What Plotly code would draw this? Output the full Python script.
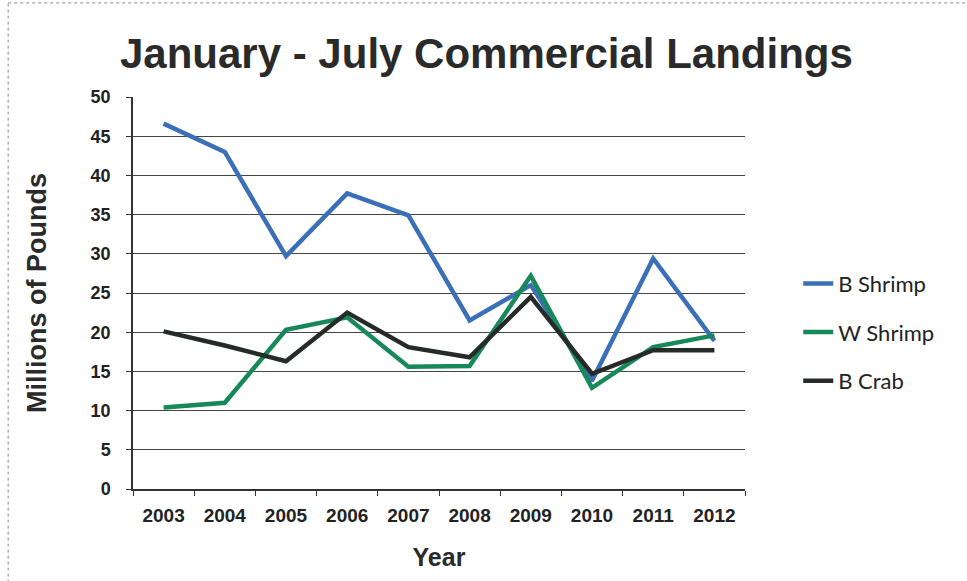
import plotly.graph_objects as go

years = ["2003", "2004", "2005", "2006", "2007", "2008", "2009", "2010", "2011", "2012"]
b_shrimp = [46.6, 43.0, 29.7, 37.7, 34.9, 21.5, 26.0, 13.8, 29.4, 18.9]
w_shrimp = [10.4, 11.0, 20.3, 21.9, 15.6, 15.7, 27.2, 12.9, 18.1, 19.6]
b_crab = [20.1, 18.3, 16.3, 22.5, 18.1, 16.8, 24.5, 14.7, 17.7, 17.7]
y_ticks = [0, 5, 10, 15, 20, 25, 30, 35, 40, 45, 50]

FONT = "Liberation Sans, Arial"

fig = go.Figure()
fig.add_trace(go.Scatter(x=years, y=b_shrimp, mode="lines", name="B Shrimp", legendgroup="a",
                         line=dict(color="#3b70b8", width=4.5)))
fig.add_trace(go.Scatter(x=years, y=w_shrimp, mode="lines", name="W Shrimp", legendgroup="b",
                         line=dict(color="#17885a", width=4.5)))
fig.add_trace(go.Scatter(x=years, y=b_crab, mode="lines", name="B Crab", legendgroup="c",
                         line=dict(color="#262a28", width=4.5)))

fig.update_layout(
    width=967, height=581,
    paper_bgcolor="white", plot_bgcolor="white",
    margin=dict(l=133, r=222, t=97, b=92),
    title=dict(text="January - July Commercial Landings", x=0.503, xanchor="center",
               y=0.909, yanchor="middle",
               font=dict(family=FONT, size=42, color="#2a2a2a", weight="bold")),
    showlegend=True,
    legend=dict(x=1.087, y=0.40, xanchor="left", yanchor="middle",
                font=dict(family="Lato, Noto Sans", size=22, color="#222"),
                traceorder="grouped", tracegroupgap=17, itemwidth=30,
                bgcolor="rgba(0,0,0,0)"),
    font=dict(family=FONT, color="#222"),
)

fig.update_xaxes(
    type="category", range=[-0.5, 9.5], tickson="boundaries", ticks="outside", ticklen=5,
    tickcolor="#333", showline=True, linecolor="#333", linewidth=1.5, showgrid=False,
    tickfont=dict(family=FONT, size=19, color="#222", weight="bold"), ticklabelstandoff=8,
    title=dict(text="Year", font=dict(family=FONT, size=25, color="#2a2a2a", weight="bold"),
               standoff=24),
)
fig.update_yaxes(
    range=[0, 50], tickvals=y_ticks, ticks="outside", ticklen=5, tickcolor="#333",
    showline=True, linecolor="#333", linewidth=1.5,
    showgrid=True, gridcolor="#444", gridwidth=1.3, zeroline=False,
    tickfont=dict(family=FONT, size=18, color="#222", weight="bold"), ticklabelstandoff=12,
    title=dict(text="Millions of Pounds", font=dict(family=FONT, size=27, color="#2a2a2a", weight="bold"),
               standoff=36),
)

# scanned-page border (left and top)
fig.add_shape(type="line", xref="paper", yref="paper", x0=-0.204, x1=1.4, y0=1.24, y1=1.24,
              line=dict(color="#888", width=1, dash="dot"))
fig.add_shape(type="line", xref="paper", yref="paper", x0=-0.204, x1=-0.204, y0=-0.3, y1=1.24,
              line=dict(color="#888", width=1, dash="dot"))

fig.write_html("out.html")
